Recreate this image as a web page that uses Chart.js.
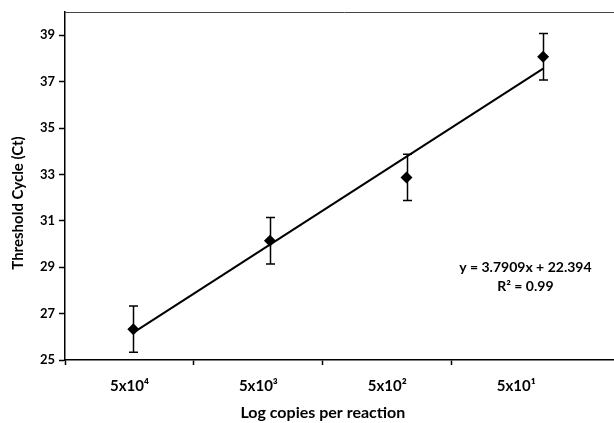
<!DOCTYPE html>
<html lang="en">
<head>
  <meta charset="UTF-8">
  <title>Threshold Cycle vs Log copies</title>
  <style>
    html, body { margin: 0; padding: 0; background: #fff; overflow: hidden; }
    /* the original plot is cut off at the right edge, so the canvas runs past the window */
    .chart-box { width: 630px; height: 423px; position: relative; }
  </style>
</head>
<body>
  <div class="chart-box">
    <canvas id="ctChart"></canvas>
  </div>
  <script src="https://cdn.jsdelivr.net/npm/chart.js"></script>
  <script>
    // values
    const xLabels = ['5x10⁴', '5x10³', '5x10²', '5x10¹'];
    const xValues = [1, 2, 3, 4];
    const ctMean = [26.33, 30.14, 32.87, 38.07];
    const ctErr = [1.0, 1.0, 1.0, 1.0];
    const trendX = [1, 4];
    const trendY = [26.18, 37.56];
    const yTicks = [25, 27, 29, 31, 33, 35, 37, 39];
    const equation = ['y = 3.7909x + 22.394', 'R² = 0.99'];

    const FONT = 'Lato, "Open Sans", sans-serif';

    // error bars + frame + axis titles + equation
    const extras = {
      id: 'extras',
      afterDatasetsDraw(chart) {
        const c = chart.ctx;
        const xs = chart.scales.x, ys = chart.scales.y, xc = chart.scales.xc;
        const area = chart.chartArea;
        c.save();
        // error bars
        c.strokeStyle = '#000';
        c.lineWidth = 1.5;
        xValues.forEach((v, i) => {
          const px = Math.round(xs.getPixelForValue(v)) + 0.5;
          const top = ys.getPixelForValue(ctMean[i] + ctErr[i]);
          const bot = ys.getPixelForValue(ctMean[i] - ctErr[i]);
          c.beginPath();
          c.moveTo(px, top); c.lineTo(px, bot);
          c.moveTo(px - 4.5, top); c.lineTo(px + 4.5, top);
          c.moveTo(px - 4.5, bot); c.lineTo(px + 4.5, bot);
          c.stroke();
        });
        // top frame line
        c.strokeStyle = '#444';
        c.lineWidth = 1;
        c.beginPath();
        c.moveTo(area.left, Math.round(area.top) + 0.5);
        c.lineTo(area.right, Math.round(area.top) + 0.5);
        c.stroke();
        // equation
        c.fillStyle = '#000';
        c.font = 'bold 14px ' + FONT;
        c.textAlign = 'center';
        c.textBaseline = 'middle';
        c.fillText(equation[0], xs.getPixelForValue(3.87), ys.getPixelForValue(28.97));
        c.fillText(equation[1], xs.getPixelForValue(3.87), ys.getPixelForValue(28.15));
        // x title centred on the category axis
        c.font = 'bold 16px ' + FONT;
        c.fillText('Log copies per reaction', xc.getPixelForValue(2), 413);
        // y title
        c.font = 'bold 15px ' + FONT;
        c.translate(18, area.bottom - 157);
        c.rotate(-Math.PI / 2);
        c.fillText('Threshold Cycle (Ct)', 0, 0);
        c.restore();
      }
    };

    new Chart(document.getElementById('ctChart'), {
      data: {
        datasets: [
          {
            type: 'line',
            label: 'Trend',
            data: trendX.map((x, i) => ({ x: x, y: trendY[i] })),
            borderColor: '#000',
            borderWidth: 2,
            pointRadius: 0,
            fill: false,
            order: 2
          },
          {
            type: 'scatter',
            label: 'Ct',
            data: xValues.map((x, i) => ({ x: x, y: ctMean[i] })),
            pointStyle: 'rectRot',
            pointRadius: 6,
            backgroundColor: '#000',
            borderColor: '#000',
            borderWidth: 0,
            order: 1
          }
        ]
      },
      options: {
        responsive: true,
        maintainAspectRatio: false,
        animation: false,
        layout: { padding: { top: 12, right: 0, bottom: 0, left: 0 } },
        plugins: { legend: { display: false }, tooltip: { enabled: false } },
        scales: {
          x: {
            type: 'linear',
            display: false,
            min: 0.5,
            max: 4.592
          },
          xc: {
            type: 'linear',
            position: 'bottom',
            axis: 'x',
            min: 0,
            max: 4.336,
            afterBuildTicks(scale) {
              const t = [];
              for (let i = 0; i < xLabels.length; i++) {
                t.push({ value: i });
                t.push({ value: i + 0.5 });
              }
              scale.ticks = t;
            },
            afterFit(scale) { scale.height = 63; },
            border: { display: true, color: '#000', width: 1.5 },
            grid: {
              drawOnChartArea: false,
              drawTicks: true,
              tickLength: 5,
              tickWidth: 1.5,
              color: 'rgba(0,0,0,0)',
              tickColor: ctx => (ctx.tick && Number.isInteger(ctx.tick.value)) ? '#000' : 'rgba(0,0,0,0)'
            },
            ticks: {
              autoSkip: false,
              maxRotation: 0,
              padding: 12,
              color: '#000',
              font: { family: FONT, size: 15, weight: 'bold' },
              callback: v => Number.isInteger(v) ? '' : xLabels[Math.floor(v)]
            }
          },
          y: {
            type: 'linear',
            min: 25,
            max: 40,
            afterBuildTicks(scale) { scale.ticks = yTicks.map(v => ({ value: v })); },
            afterFit(scale) { scale.width = 65; },
            border: { display: true, color: '#000', width: 1.5 },
            grid: { drawOnChartArea: false, drawTicks: true, tickLength: 6, tickWidth: 1.5, tickColor: '#000', color: 'rgba(0,0,0,0)' },
            ticks: {
              padding: 4,
              color: '#000',
              font: { family: FONT, size: 13, weight: 'bold' }
            }
          }
        }
      },
      plugins: [extras]
    });
  </script>
</body>
</html>
